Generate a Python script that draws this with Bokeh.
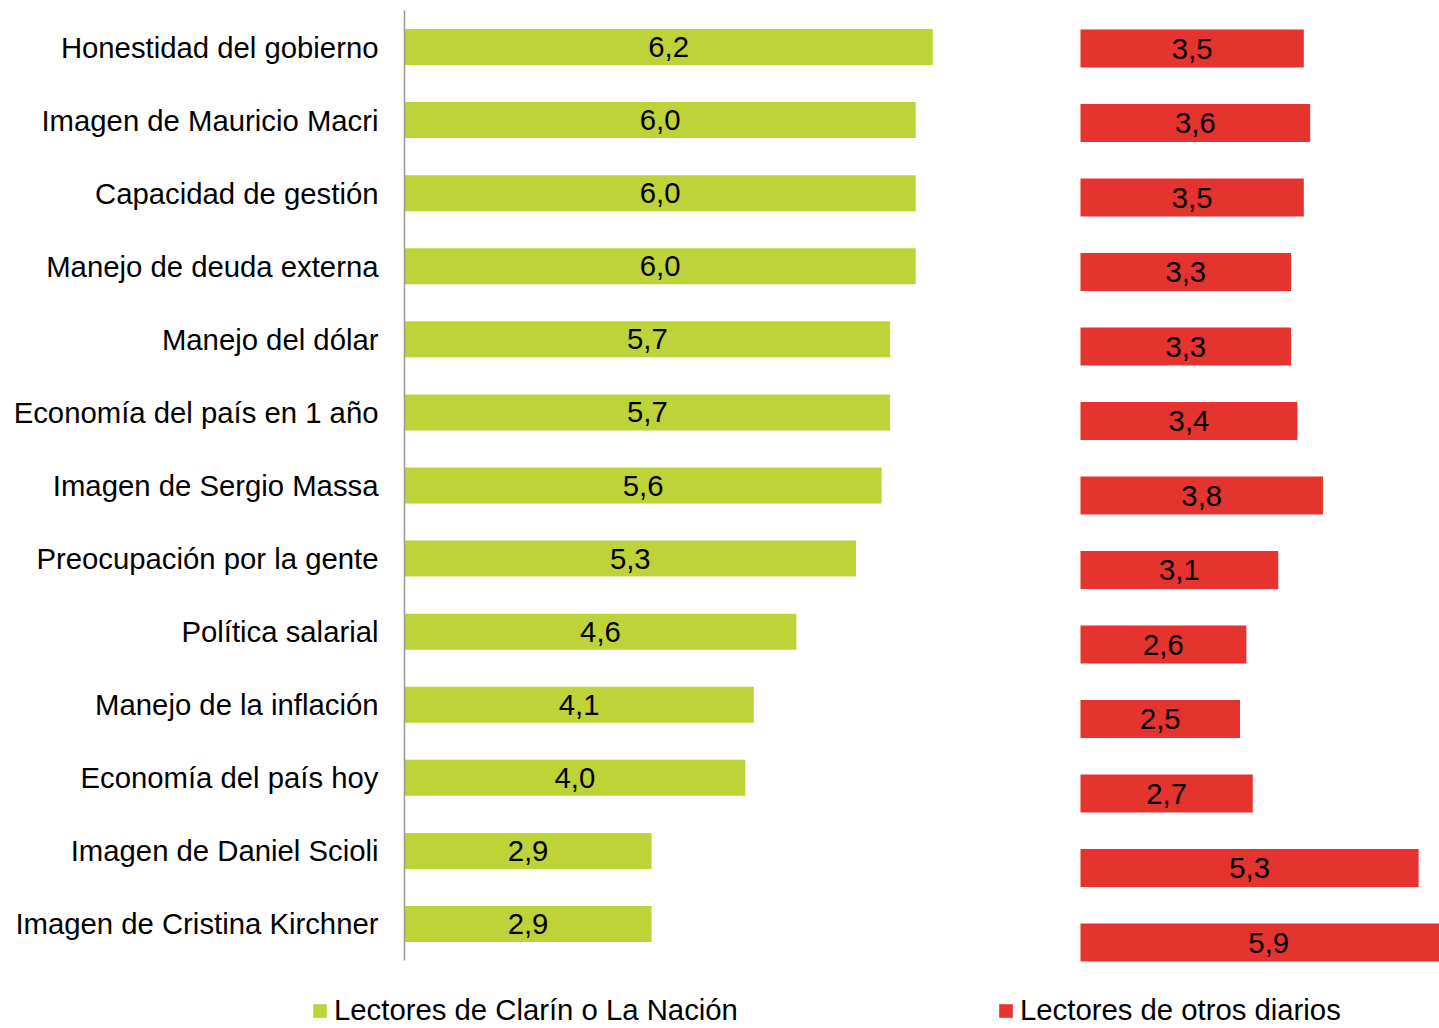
from bokeh.plotting import figure
from bokeh.models import ColumnDataSource, Range1d, Legend, LegendItem, FixedTicker
from bokeh.core.properties import value
from bokeh.embed import file_html
from bokeh.resources import INLINE

categories = [
    "Honestidad del gobierno",
    "Imagen de Mauricio Macri",
    "Capacidad de gestión",
    "Manejo de deuda externa",
    "Manejo del dólar",
    "Economía del país en 1 año",
    "Imagen de Sergio Massa",
    "Preocupación por la gente",
    "Política salarial",
    "Manejo de la inflación",
    "Economía del país hoy",
    "Imagen de Daniel Scioli",
    "Imagen de Cristina Kirchner",
]
clarin_nacion = [6.2, 6.0, 6.0, 6.0, 5.7, 5.7, 5.6, 5.3, 4.6, 4.1, 4.0, 2.9, 2.9]
otros_diarios = [3.5, 3.6, 3.5, 3.3, 3.3, 3.4, 3.8, 3.1, 2.6, 2.5, 2.7, 5.3, 5.9]
series_names = ["Lectores de Clarín o La Nación", "Lectores de otros diarios"]

GREEN = "#BDD337"
RED = "#E5332D"
FONT = "Liberation Sans"
FS = "29.3px"

def fmt(v):
    return f"{v:.1f}".replace(".", ",")

idx = list(range(len(categories)))
n = len(categories)

src_g = ColumnDataSource(dict(
    idx=idx, val=clarin_nacion,
    mid=[v / 2 for v in clarin_nacion],
    lab=[fmt(v) for v in clarin_nacion],
))
src_r = ColumnDataSource(dict(
    idx=idx, val=otros_diarios,
    mid=[v / 2 for v in otros_diarios],
    lab=[fmt(v) for v in otros_diarios],
))

W, H = 1439, 1028
# pixel geometry of the two panels
G0, GS = 404, 85.2            # green: x of zero, px per unit
R0, RS = 1080, 63.8           # red: x of zero, px per unit
GT, GB = 10, 960              # green rows band (top/bottom)
GROW = (GB - GT) / n
GC0 = GT + GROW / 2           # first green row centre
RC0, RROW = 48, 74.5          # red rows: first centre, spacing

p = figure(
    width=W, height=H,
    x_range=Range1d(-G0 / GS, (W - G0) / GS),
    y_range=Range1d((H - GC0) / GROW, (0 - GC0) / GROW),
    output_backend="svg", toolbar_location=None,
    min_border_left=0, min_border_right=0,
    min_border_top=0, min_border_bottom=0,
)
p.extra_x_ranges = {"red": Range1d(-R0 / RS, (W - R0) / RS)}
p.extra_y_ranges = {"red": Range1d((H - RC0) / RROW, (0 - RC0) / RROW)}

p.outline_line_color = None
p.xgrid.visible = False
p.ygrid.visible = False
p.xaxis.visible = False
p.background_fill_color = "white"
p.border_fill_color = "white"

ya = p.yaxis[0]
ya.fixed_location = 0
ya.bounds = (-0.5, n - 0.5)
ya.ticker = FixedTicker(ticks=idx, minor_ticks=[])
ya.major_label_overrides = {i: c for i, c in zip(idx, categories)}
ya.axis_line_color = "#999999"
ya.axis_line_width = 1.5
ya.major_tick_line_color = None
ya.minor_tick_line_color = None
ya.major_tick_out = 0
ya.major_tick_in = 0
ya.major_label_standoff = 26
ya.major_label_text_font = FONT
ya.major_label_text_font_size = FS
ya.major_label_text_color = "black"

g = p.hbar(y="idx", right="val", left=0, height=36 / GROW, source=src_g,
           fill_color=GREEN, line_color=None)
r = p.hbar(y="idx", right="val", left=0, height=38 / RROW, source=src_r,
           fill_color=RED, line_color=None,
           x_range_name="red", y_range_name="red")

p.text(x="mid", y="idx", text="lab", source=src_g,
       text_align="center", text_baseline="middle",
       text_font=value(FONT), text_font_size=FS, text_color="black")
p.text(x="mid", y="idx", text="lab", source=src_r,
       text_align="center", text_baseline="middle",
       text_font=value(FONT), text_font_size=FS, text_color="black",
       x_range_name="red", y_range_name="red")

def make_legend(name, rend, loc):
    lg = Legend(items=[LegendItem(label=name, renderers=[rend])],
                location=loc, orientation="horizontal",
                glyph_width=17, glyph_height=17, label_standoff=6,
                label_text_font=FONT, label_text_font_size=FS,
                label_text_color="black", padding=0, margin=0,
                spacing=0, border_line_alpha=0, background_fill_alpha=0)
    p.add_layout(lg, "center")

make_legend(series_names[0], g, (311, 1))
make_legend(series_names[1], r, (997, 1))

open("out.html", "w").write(file_html(p, INLINE))
